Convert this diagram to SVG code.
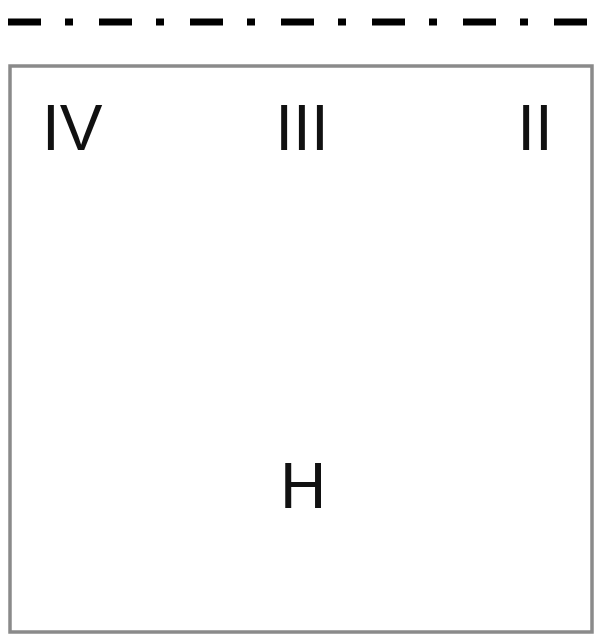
<svg xmlns="http://www.w3.org/2000/svg" width="595" height="635" viewBox="0 0 595 635">
<style>
.lbl{font-family:"Liberation Sans",Arial,sans-serif;font-size:64px;fill:#111;}
</style>
<rect width="595" height="635" fill="#fff"/>
<g id="axis">
<line x1="8" y1="22" x2="595" y2="22" stroke="#000" stroke-width="7" stroke-dasharray="33 24 8 26"/>
</g>
<g id="box">
<rect x="10" y="66" width="582" height="566" fill="#fff" stroke="#8a8a8a" stroke-width="3.5"/>
</g>
<g id="labels">
<text class="lbl" x="42" y="150">IV</text>
<text class="lbl" x="302" y="150" text-anchor="middle">III</text>
<text class="lbl" x="535" y="150" text-anchor="middle">II</text>
<text class="lbl" x="303" y="508" text-anchor="middle">H</text>
</g>
</svg>
